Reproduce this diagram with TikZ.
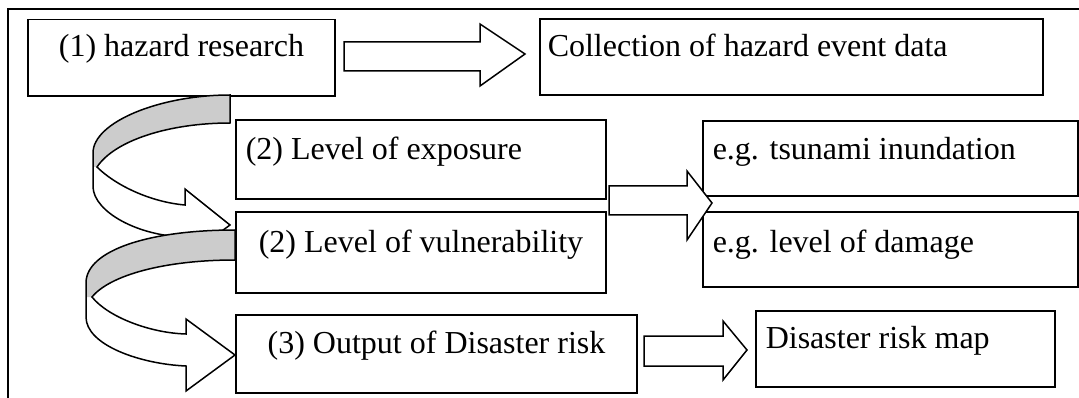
\documentclass[tikz,border=0pt]{standalone}
\usepackage{fontspec}
\setmainfont{Liberation Serif}
\definecolor{bandgray}{RGB}{204,204,204}
\begin{document}
\begin{tikzpicture}[x=1pt, y=-1pt, line width=1.5pt, line join=miter,
  box/.style={draw, fill=white, anchor=north west, inner sep=0pt, outer sep=0pt},
  lbl/.style={anchor=base west, inner sep=0pt, font=\fontsize{32}{38}\selectfont},
  clbl/.style={anchor=base, inner sep=0pt, font=\fontsize{32}{38}\selectfont},
  blockarrow/.style={draw, fill=white},
  band/.style={fill=bandgray}]
\useasboundingbox (0,0) rectangle (1079,398);
\clip (0,0) rectangle (1079,398);
% outer frame
\draw (8,9) rectangle (1100,420);

% boxes
\node[box, minimum width=307pt, minimum height=76.4pt] (haz)  at (28,19.6) {};
\node[box, minimum width=503pt, minimum height=76pt]   (coll) at (540,19) {};
\node[box, minimum width=370pt, minimum height=79pt]   (expo) at (236,120) {};
\node[box, minimum width=375pt, minimum height=75pt]   (tsu)  at (703,121) {};
\node[box, minimum width=370pt, minimum height=81pt]   (vuln) at (236,212) {};
\node[box, minimum width=375pt, minimum height=75pt]   (dmg)  at (703,212) {};
\node[box, minimum width=401pt, minimum height=78pt]   (outp) at (236,315) {};
\node[box, minimum width=299pt, minimum height=76pt]   (map)  at (756,311) {};

% texts
\node[clbl] (hazT)  at (181.5,57) {(1) hazard research};
\node[lbl]  (collT) at (547,57)   {Collection of hazard event data};
\node[lbl]  (expoT) at (245,160)  {(2) Level of exposure};
\node[lbl]  (tsuT)  at (712,160)  {e.g. tsunami inundation};
\node[clbl] (vulnT) at (421,252)  {(2) Level of vulnerability};
\node[lbl]  (dmgT)  at (712,252)  {e.g. level of damage};
\node[clbl] (outpT) at (436.5,353) {(3) Output of Disaster risk};
\node[lbl]  (mapT)  at (765,348)  {Disaster risk map};

% straight block arrows
\draw[blockarrow] (344,42) -- (480,42) -- (480,24) -- (525,54) -- (480,86) -- (480,71) -- (344,71) -- cycle;
\draw[blockarrow] (609,186) -- (687,186) -- (687,171) -- (712,203) -- (687,240) -- (687,215) -- (609,215) -- cycle;
\draw[blockarrow] (644,336) -- (723,336) -- (723,321) -- (747,350) -- (723,380) -- (723,366) -- (644,366) -- cycle;

% curved arrow from hazard research to vulnerability
\fill[white] (230,95) .. controls (160,95) and (93,122) .. (93,153)
  -- (93,187) .. controls (94,212) and (138,236) .. (185,237)
  -- (185,258) -- (230,225) -- (185,189) -- (185,205)
  .. controls (150,202) and (115,185) .. (97,167)
  .. controls (115,140) and (170,123) .. (230,123) -- cycle;
\fill[band] (230,95) .. controls (160,95) and (93,122) .. (93,153)
  -- (93,167) -- (97,167)
  .. controls (115,140) and (170,123) .. (230,123) -- cycle;
\draw (230,95) .. controls (160,95) and (93,122) .. (93,153)
  -- (93,187) .. controls (94,212) and (138,236) .. (185,237)
  -- (185,258) -- (230,225) -- (185,189) -- (185,205)
  .. controls (150,202) and (115,185) .. (97,167)
  .. controls (115,140) and (170,123) .. (230,123) -- cycle;

% curved arrow from vulnerability to output
\fill[white] (235,230) .. controls (150,230) and (86,250) .. (86,283)
  -- (86,317) .. controls (86,345) and (140,364) .. (186,366)
  -- (186,391) -- (235,355) -- (186,319) -- (186,334)
  .. controls (150,333) and (108,317) .. (92,297)
  .. controls (110,275) and (165,260) .. (235,260) -- cycle;
\fill[band] (235,230) .. controls (150,230) and (86,250) .. (86,283)
  -- (86,297) -- (92,297)
  .. controls (110,275) and (165,260) .. (235,260) -- cycle;
\draw (235,230) .. controls (150,230) and (86,250) .. (86,283)
  -- (86,317) .. controls (86,345) and (140,364) .. (186,366)
  -- (186,391) -- (235,355) -- (186,319) -- (186,334)
  .. controls (150,333) and (108,317) .. (92,297)
  .. controls (110,275) and (165,260) .. (235,260) -- cycle;
\end{tikzpicture}
\end{document}
